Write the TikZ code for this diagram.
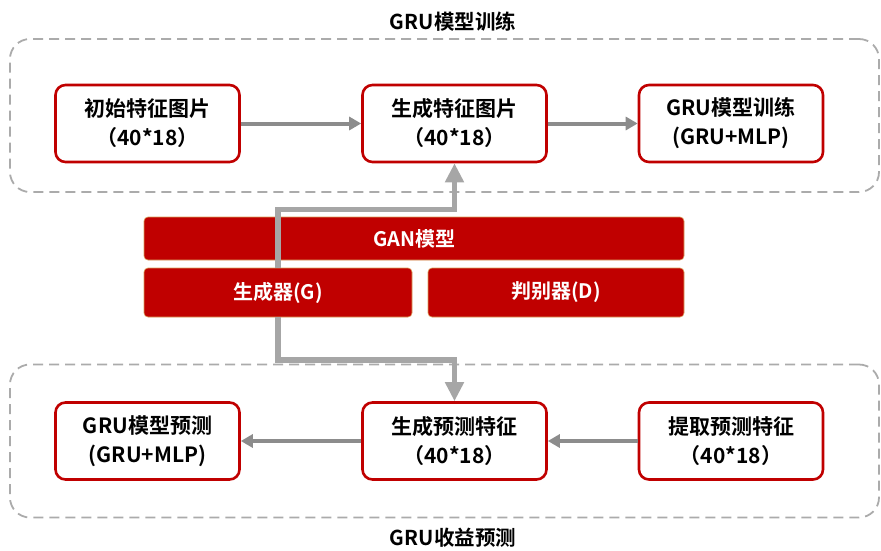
\documentclass[tikz,border=0pt]{standalone}
\usepackage{fontspec}
\setmainfont{Noto Sans CJK SC}[BoldFont={* Bold}]
\usetikzlibrary{arrows.meta}
\definecolor{darkred}{HTML}{C00000}
\definecolor{barline}{HTML}{D9A05B}
\definecolor{framegray}{HTML}{ABABAB}
\definecolor{arrgray}{HTML}{8C8C8C}
\definecolor{fatgray}{HTML}{A6A6A6}
\begin{document}
\begin{tikzpicture}[x=1pt,y=-1pt,
  stepbox/.style={draw=darkred, line width=2.6pt, fill=white, rounded corners=10pt,
    minimum width=184pt, minimum height=77pt, inner sep=0pt, align=center,
    font=\fontsize{21}{29}\selectfont\bfseries},
  bar/.style={draw=barline, line width=0.6pt, fill=darkred, rounded corners=4pt,
    inner sep=0pt, text=white, font=\fontsize{20}{22}\selectfont\bfseries},
  frame/.style={draw=framegray, line width=1.8pt, dash pattern=on 10pt off 6pt,
    rounded corners=20pt, inner sep=0pt},
  ttl/.style={font=\fontsize{20.5}{24}\selectfont\bfseries, inner sep=0pt},
  thinarr/.style={draw=arrgray, line width=4pt, -{Triangle[length=12pt,width=13pt]}},
  fatarr/.style={draw=fatgray, line width=5.5pt, -{Triangle[length=19pt,width=18pt]}}
]
\useasboundingbox (0,0) rectangle (881,550);

% frames
\node[frame, minimum width=869pt, minimum height=153pt] (topframe) at (444.5,115.5) {};
\node[frame, minimum width=869pt, minimum height=153pt] (botframe) at (444.5,441) {};
\node[ttl] (toptitle) at (453,22) {GRU模型训练};
\node[ttl] (bottitle) at (453,538) {GRU收益预测};

% top boxes
\node[stepbox] (b1) at (147.5,123.5) {初始特征图片\\（40*18）};
\node[stepbox] (b2) at (454.5,123.5) {生成特征图片\\（40*18）};
\node[stepbox] (b3) at (731,123.5) {GRU模型训练\\(GRU+MLP)};

% bottom boxes
\node[stepbox] (b4) at (147.5,441) {GRU模型预测\\(GRU+MLP)};
\node[stepbox] (b5) at (454.5,441) {生成预测特征\\（40*18）};
\node[stepbox] (b6) at (731,441) {提取预测特征\\（40*18）};

% GAN bars
\node[bar, minimum width=540pt, minimum height=43pt] (gan) at (414,238.5) {GAN模型};
\node[bar, minimum width=268pt, minimum height=49pt] (gen) at (278,292.5) {生成器(G)};
\node[bar, minimum width=256pt, minimum height=49pt] (dis) at (556,292.5) {判别器(D)};

% horizontal arrows
\draw[thinarr] (b1) -- (b2);
\draw[thinarr] (b2) -- (b3);
\draw[thinarr] (b6) -- (b5);
\draw[thinarr] (b5) -- (b4);

% thick gray paths
\coordinate (upturn) at (454.5,209.5);
\coordinate (downturn) at (454.5,360);
\draw[fatarr] (gen.north) |- (upturn) -- (b2.south);
\draw[fatarr] (gen.south) |- (downturn) -- (b5.north);
\end{tikzpicture}
\end{document}
